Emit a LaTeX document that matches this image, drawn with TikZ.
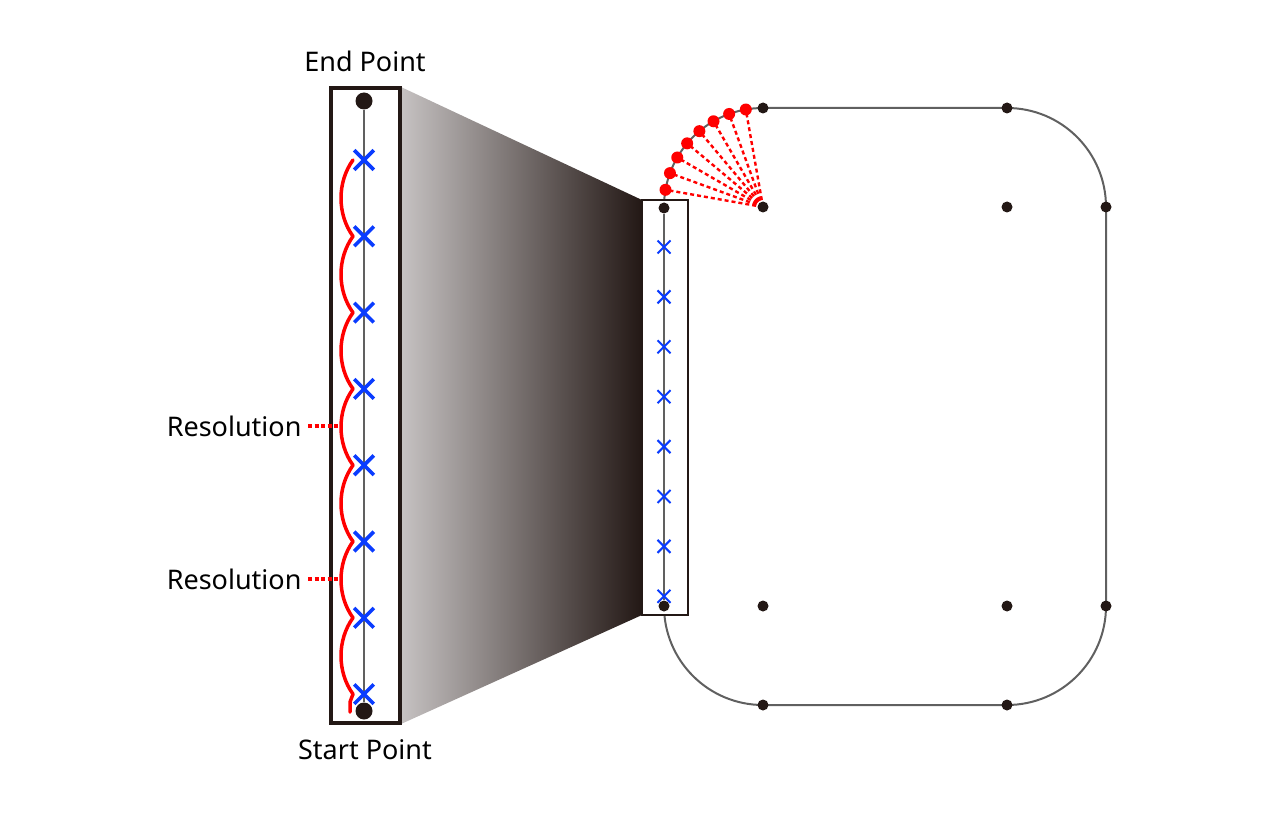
\documentclass[tikz,border=0pt]{standalone}
\usepackage{fontspec}
\setmainfont{Noto Sans}
\usetikzlibrary{shapes.misc}
\definecolor{inkblack}{HTML}{231815}
\definecolor{crossblue}{HTML}{0A3CFF}
\definecolor{pathgray}{HTML}{606060}
\definecolor{shadelight}{HTML}{C6C2C2}

\begin{document}
\begin{tikzpicture}[x=1pt, y=-1pt, font=\fontsize{27}{32}\selectfont,
  bigcross/.style={cross out, draw=crossblue, line width=3.6pt, minimum size=16pt, inner sep=0pt},
  smallcross/.style={cross out, draw=crossblue, line width=2pt, minimum size=11pt, inner sep=0pt},
  bigdot/.style={circle, fill=inkblack, minimum size=17pt, inner sep=0pt},
  bdot/.style={circle, fill=inkblack, minimum size=11pt, inner sep=0pt},
  rdot/.style={circle, fill=red, minimum size=12pt, inner sep=0pt},
  redline/.style={red, line width=3.5pt, line cap=round},
  reddash/.style={red, line width=2.4pt, dash pattern=on 4pt off 3pt},
  reddotted/.style={red, line width=3.2pt, dash pattern=on 4pt off 2.5pt}]
  \useasboundingbox (0,0) rectangle (1280,813);

  % Projection shading
  \shade[left color=shadelight, right color=inkblack]
    (401,87) -- (642,200) -- (642,615) -- (401,724) -- cycle;

  % Left column (zoomed path)
  \draw[inkblack, line width=3.6pt, fill=white] (331,88) rectangle (400,723);
  \node[bigdot] (endpt) at (364,101) {};
  \node[bigdot] (startpt) at (364,711) {};
  \draw[pathgray, line width=1.4pt] (endpt) -- (startpt);
  \node (endlabel) at (365,61) {End Point};
  \node (startlabel) at (365,750) {Start Point};

  % Sample points and resolution arcs
  \foreach \i in {0,...,7} {
    \node[bigcross] (bc\i) at (364,160+76.3*\i) {};
    \coordinate (a\i) at (353,160+76.3*\i);
  }
  \foreach \i [evaluate=\i as \j using int(\i+1)] in {0,...,6}
    \draw[redline] (a\i) .. controls +(-16,22) and +(-16,-22) .. (a\j);
  \draw[redline] (a7) .. controls +(-1,4) .. (350,702) -- (350,712);

  % Resolution labels
  \node[anchor=east] (res1) at (305,426) {Resolution};
  \node[anchor=east] (res2) at (305,579) {Resolution};
  \draw[reddotted] (res1.east) ++(3,0) -- (341,426);
  \draw[reddotted] (res2.east) ++(3,0) -- (341,579);

  % Rounded path
  \draw[pathgray, line width=2pt, rounded corners=99pt] (664,108) rectangle (1106,705);

  % Small column
  \draw[inkblack, line width=1.6pt, fill=white] (642,200) rectangle (688,615);
  \node[bdot] (s0) at (664,208) {};
  \node[bdot] (s1) at (664,606) {};
  \draw[pathgray, line width=1.4pt] (s0) -- (s1);
  \foreach \i in {0,...,7}
    \node[smallcross] (sc\i) at (664,247+49.9*\i) {};

  % Corner samples
  \coordinate (ctl) at (763,207);
  \foreach \a [count=\k] in {-170,-160,...,-100}
    \draw[reddash] (ctl) -- ++(\a:99) coordinate (rp\k);
  \foreach \k in {1,...,8}
    \node[rdot] at (rp\k) {};

  % Control points
  \node[bdot] (tl) at (763,207) {};
  \node[bdot] (tr) at (1007,207) {};
  \node[bdot] (bl) at (763,606) {};
  \node[bdot] (br) at (1007,606) {};
  \node[bdot] at (763,108) {};
  \node[bdot] at (1007,108) {};
  \node[bdot] at (1106,207) {};
  \node[bdot] at (1106,606) {};
  \node[bdot] at (763,705) {};
  \node[bdot] at (1007,705) {};
\end{tikzpicture}
\end{document}
